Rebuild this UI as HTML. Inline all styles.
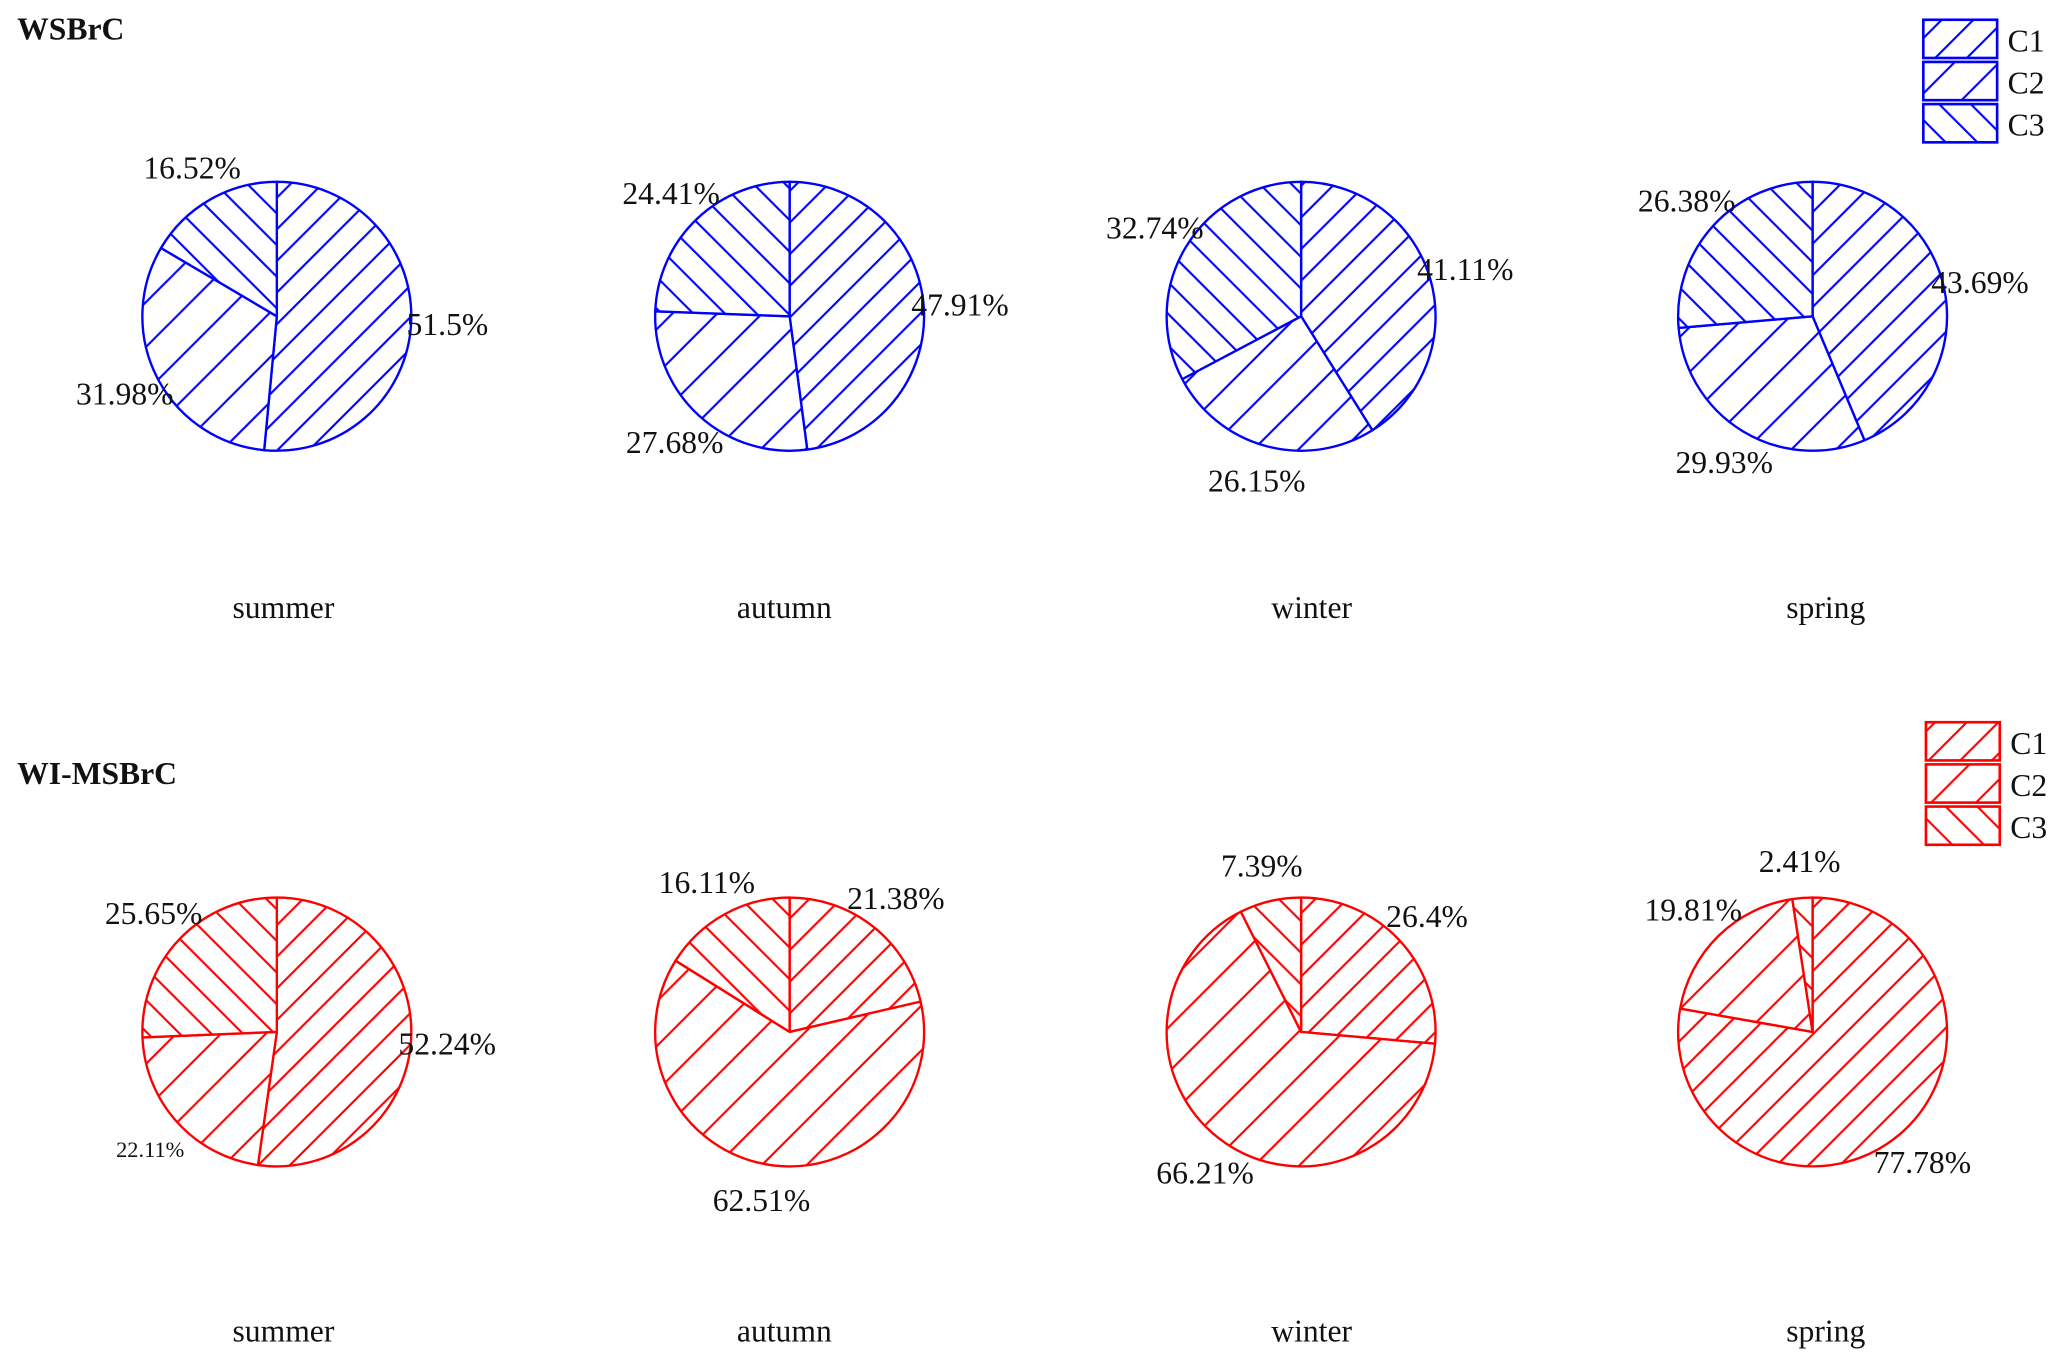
<!DOCTYPE html>
<html><head><meta charset="utf-8"><style>
html,body{margin:0;padding:0;background:#fff;}
svg{display:block;}
text{font-family:"Liberation Serif",serif;fill:#111;}
</style></head><body>
<svg id="chart" width="2067" height="1368" viewBox="0 0 1568 1038" preserveAspectRatio="none" xmlns="http://www.w3.org/2000/svg">
<defs>
<pattern id="c1-blue" patternUnits="userSpaceOnUse" width="24" height="24"><rect width="24" height="24" fill="#fff"/><path d="M-6,6 L6,-6 M0,24 L24,0 M18,30 L30,18" stroke="#0000ff" stroke-width="1.6"/></pattern>
<pattern id="c2-blue" patternUnits="userSpaceOnUse" width="34" height="34"><rect width="34" height="34" fill="#fff"/><path d="M-6,6 L6,-6 M0,34 L34,0 M28,40 L40,28" stroke="#0000ff" stroke-width="1.6"/></pattern>
<pattern id="c3-blue" patternUnits="userSpaceOnUse" width="24" height="24"><rect width="24" height="24" fill="#fff"/><path d="M-6,18 L6,30 M0,0 L24,24 M18,-6 L30,6" stroke="#0000ff" stroke-width="1.6"/></pattern>
<pattern id="c1-red" patternUnits="userSpaceOnUse" width="24" height="24"><rect width="24" height="24" fill="#fff"/><path d="M-6,6 L6,-6 M0,24 L24,0 M18,30 L30,18" stroke="#ff0000" stroke-width="1.6"/></pattern>
<pattern id="c2-red" patternUnits="userSpaceOnUse" width="34" height="34"><rect width="34" height="34" fill="#fff"/><path d="M-6,6 L6,-6 M0,34 L34,0 M28,40 L40,28" stroke="#ff0000" stroke-width="1.6"/></pattern>
<pattern id="c3-red" patternUnits="userSpaceOnUse" width="24" height="24"><rect width="24" height="24" fill="#fff"/><path d="M-6,18 L6,30 M0,0 L24,24 M18,-6 L30,6" stroke="#ff0000" stroke-width="1.6"/></pattern>
</defs>
<g id="root"></g>
</svg>
<script>
const seasons = ["summer", "autumn", "winter", "spring"];
const components = ["C1", "C2", "C3"];
const wsbrcC1 = [51.5, 47.91, 41.11, 43.69];
const wsbrcC2 = [31.98, 27.68, 26.15, 29.93];
const wsbrcC3 = [16.52, 24.41, 32.74, 26.38];
const wimsC1 = [52.24, 21.38, 26.4, 77.78];
const wimsC2 = [22.11, 62.51, 66.21, 19.81];
const wimsC3 = [25.65, 16.11, 7.39, 2.41];
const panelTitles = ["WSBrC", "WI-MSBrC"];

const NS = "http://www.w3.org/2000/svg";
const root = document.getElementById("root");
function mk(tag, attrs, parent) {
  const e = document.createElementNS(NS, tag);
  for (const k in attrs) e.setAttribute(k, attrs[k]);
  (parent || root).appendChild(e);
  return e;
}
const centersX = [210, 599, 987, 1375];
const seasonX = [215, 595, 995, 1385];
const R = 102;
function pt(cx, cy, r, frac) {
  const a = frac * 2 * Math.PI;
  return [cx + r * Math.sin(a), cy - r * Math.cos(a)];
}
function drawPanel(p, cy, c1, c2, c3, color, titleY, seasonY, legendY) {
  const cname = color === "#0000ff" ? "blue" : "red";
  const t = mk("text", {x: 13, y: titleY, "font-size": 24, "font-weight": "bold"});
  t.textContent = panelTitles[p];
  
  
  for (let i = 0; i < seasons.length; i++) {
    const cx = centersX[i];
    const vals = [c1[i], c2[i], c3[i]];
    const total = vals[0] + vals[1] + vals[2];
    const g = mk("g", {});
    
    
    let start = 0;
    for (let k = 0; k < 3; k++) {
      const f0 = start / total, f1 = (start + vals[k]) / total;
      const [x0, y0] = pt(cx, cy, R, f0), [x1, y1] = pt(cx, cy, R, f1);
      const large = (f1 - f0) > 0.5 ? 1 : 0;
      const path = mk("path", {d: `M${cx},${cy} L${x0},${y0} A${R},${R} 0 ${large} 1 ${x1},${y1} Z`,
        fill: `url(#c${k+1}-${cname})`, stroke: color, "stroke-width": 1.8, "stroke-linejoin": "round"}, g);
      
      
      const [lx, ly] = pt(cx, cy, R * 1.27, (f0 + f1) / 2);
      const lbl = mk("text", {x: lx, y: ly + 8, "font-size": (vals[k] === 22.11 ? 17 : 24), "text-anchor": "middle"}, g);
      lbl.textContent = vals[k] + "%";
      
      
      start += vals[k];
    }
    const s = mk("text", {x: seasonX[i], y: seasonY, "font-size": 24, "text-anchor": "middle"});
    s.textContent = seasons[i];
    
    
  }
  const lx = p === 0 ? 1459 : 1461;
  for (let k = 0; k < 3; k++) {
    const ly = legendY + k * 32;
    const r = mk("rect", {x: lx, y: ly, width: 56, height: 29, fill: `url(#c${k+1}-${cname})`, stroke: color, "stroke-width": 2});
    
    
    const lt = mk("text", {x: lx + 64, y: ly + 24, "font-size": 24});
    lt.textContent = components[k];
    
    
  }
}
drawPanel(0, 240, wsbrcC1, wsbrcC2, wsbrcC3, "#0000ff", 30, 469, 15);
drawPanel(1, 783, wimsC1, wimsC2, wimsC3, "#ff0000", 595, 1018, 548);
</script>
</body></html>
